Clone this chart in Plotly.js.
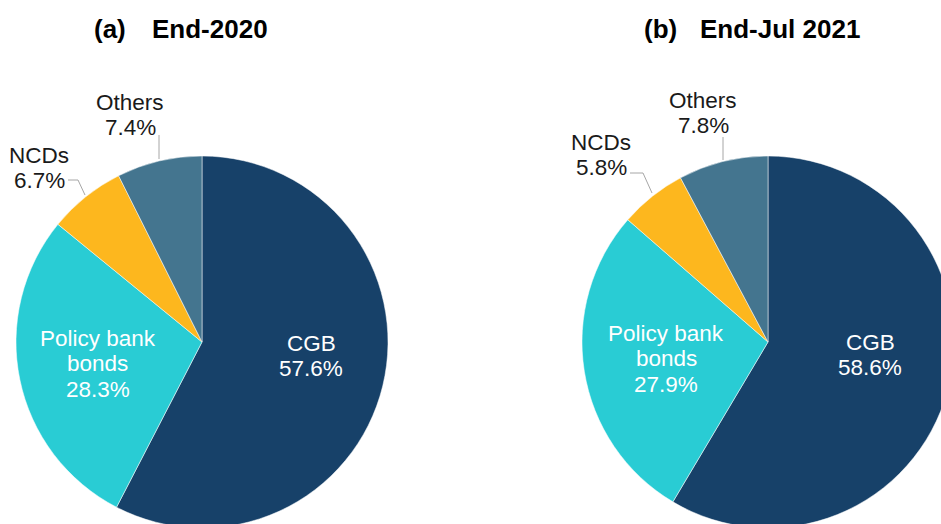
<!DOCTYPE html>
<html><head><meta charset="utf-8">
<script src="https://cdn.plot.ly/plotly-3.0.1.min.js"></script>
<style>html,body{margin:0;padding:0;overflow:hidden;background:#fff}</style>
</head><body><div id="chart"></div>
<script>
// ---- data ----
const categories = ['CGB', 'Policy bank bonds', 'NCDs', 'Others'];
const valuesA = [57.6, 28.3, 6.7, 7.4];
const valuesB = [58.6, 27.9, 5.8, 7.8];
const titleTags = ['(a)', '(b)'];
const titleTexts = ['End-2020', 'End-Jul 2021'];
const labelLines = [['CGB'], ['Policy bank', 'bonds'], ['NCDs'], ['Others']];

// ---- style / layout ----
const colors = ['#174169', '#29CCD4', '#FDB71E', '#44758F'];
const W = 1000, H = 560;
const FONT = '"Liberation Sans", Arial, sans-serif';
const pies = [
  {cx: 202, cy: 342, r: 186, values: valuesA,
   labelPos: [[311, 343], [97.5, 338], [39, 155], [130, 102]],
   leaders: ['M159,135 L159,159', 'M68,180 L78,180 L85,195'],
   tagX: 110, textX: 210},
  {cx: 768, cy: 342, r: 186, values: valuesB,
   labelPos: [[870, 342], [666, 333], [601, 142], [703, 100]],
   leaders: ['M723,137 L723,160', 'M630,173 L643,173 L652,193'],
   tagX: 660, textX: 780}
];
const lineGap = 25.5;
const insideIdx = [0, 1];

const px = x => x / W;
const py = y => 1 - y / H;

const traces = pies.map(p => ({
  type: 'pie',
  labels: categories,
  values: p.values,
  sort: false,
  direction: 'clockwise',
  rotation: 0,
  textinfo: 'none',
  hoverinfo: 'label+percent',
  marker: {colors: colors, line: {color: '#ffffff', width: 0.5}},
  domain: {x: [px(p.cx - p.r), px(p.cx + p.r)], y: [py(p.cy + p.r), py(p.cy - p.r)]},
  showlegend: false
}));

const annotations = [];
const shapes = [];
pies.forEach((p, pi) => {
  annotations.push({xref: 'paper', yref: 'paper', x: px(p.tagX), y: py(29), text: '<b>' + titleTags[pi] + '</b>',
    showarrow: false, xanchor: 'center', yanchor: 'middle', font: {family: FONT, size: 26, color: '#000'}});
  annotations.push({xref: 'paper', yref: 'paper', x: px(p.textX), y: py(29), text: '<b>' + titleTexts[pi] + '</b>',
    showarrow: false, xanchor: 'center', yanchor: 'middle', font: {family: FONT, size: 26, color: '#000'}});
  categories.forEach((c, ci) => {
    const lines = labelLines[ci].concat([p.values[ci].toFixed(1) + '%']);
    const col = insideIdx.includes(ci) ? '#ffffff' : '#1a1a1a';
    lines.forEach((t, li) => {
      annotations.push({xref: 'paper', yref: 'paper',
        x: px(p.labelPos[ci][0]), y: py(p.labelPos[ci][1] + li * lineGap),
        text: t, showarrow: false, xanchor: 'center', yanchor: 'middle',
        font: {family: FONT, size: 22.5, color: col}});
    });
  });
  p.leaders.forEach(d => {
    const conv = d.replace(/(-?\d+\.?\d*),(-?\d+\.?\d*)/g, (m, a, b) => px(+a) + ',' + py(+b));
    shapes.push({type: 'path', xref: 'paper', yref: 'paper', path: conv, line: {color: '#A6A6A6', width: 1}});
  });
});

Plotly.newPlot('chart', traces, {
  width: W, height: H,
  margin: {l: 0, r: 0, t: 0, b: 0},
  paper_bgcolor: '#ffffff',
  annotations: annotations,
  shapes: shapes
}, {displayModeBar: false, responsive: false});
</script>
</body></html>
